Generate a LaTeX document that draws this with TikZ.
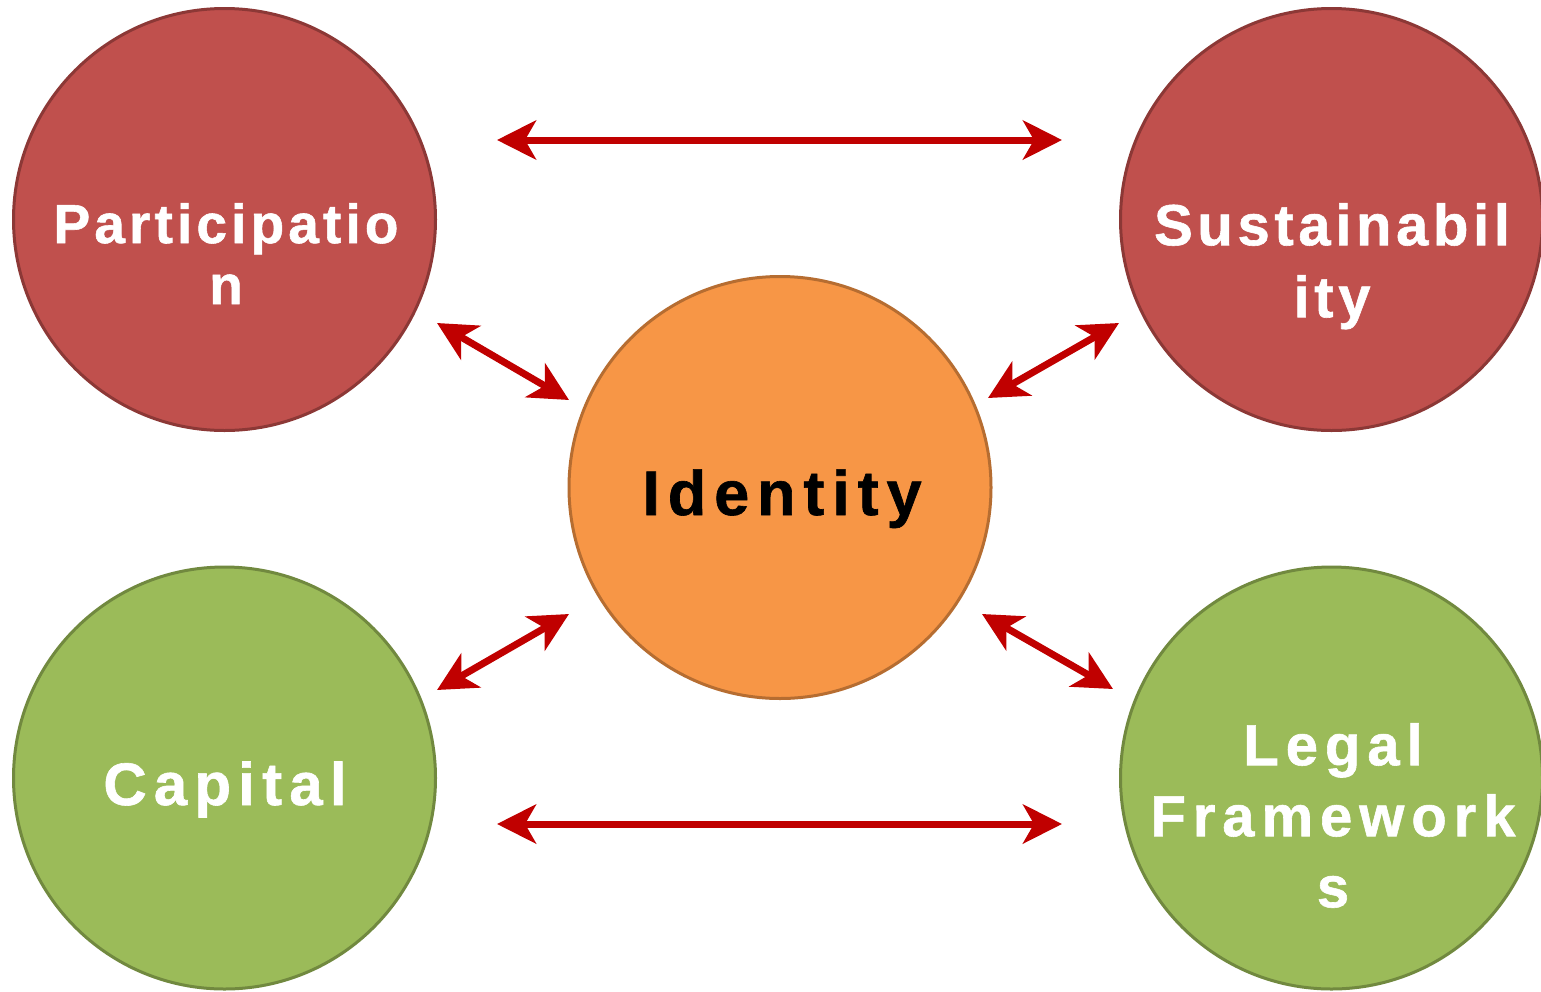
\documentclass[tikz,border=0pt]{standalone}
\usepackage{fontspec}
\setmainfont{Liberation Sans}
\usetikzlibrary{arrows.meta}
\definecolor{redfill}{HTML}{C0504D}
\definecolor{redline}{HTML}{8C3836}
\definecolor{greenfill}{HTML}{9BBB59}
\definecolor{greenline}{HTML}{71893F}
\definecolor{orangefill}{HTML}{F79646}
\definecolor{orangeline}{HTML}{B66D31}
\definecolor{arrowred}{HTML}{C00000}
\begin{document}
\begin{tikzpicture}[x=1pt,y=-1pt,
  bubble/.style={circle, minimum size=422pt, inner sep=0pt, line width=3pt},
  redb/.style={bubble, fill=redfill, draw=redline},
  greenb/.style={bubble, fill=greenfill, draw=greenline},
  orangeb/.style={bubble, fill=orangefill, draw=orangeline},
  lab/.style={inner sep=0pt, align=center, text=white},
  link/.style={draw=arrowred, line width=7pt, {Stealth[length=39pt, width=39pt, inset=11pt]}-{Stealth[length=39pt, width=39pt, inset=11pt]}}
]
\useasboundingbox (0,0) rectangle (1541,991);
\fill[white] (0,0) rectangle (1541,991);

% circles
\node[redb] (p) at (224.5,219.5) {};
\node[redb] (s) at (1331.5,219.5) {};
\node[orangeb] (i) at (780,487.5) {};
\node[greenb] (c) at (224.5,778) {};
\node[greenb] (l) at (1331.5,778) {};

% labels
\node[lab, anchor=north, font=\bfseries\fontsize{55}{61}\selectfont\addfontfeatures{LetterSpace=7.5,FakeBold=1}] (pt) at (226,203) {Participatio\\n};
\node[lab, anchor=north, font=\bfseries\fontsize{58}{72}\selectfont\addfontfeatures{LetterSpace=8,FakeBold=1}] (st) at (1332,203) {Sustainabil\\ity};
\node[lab, anchor=base, text=black, font=\bfseries\fontsize{63}{70}\selectfont\addfontfeatures{LetterSpace=12.5,FakeBold=1}] (it) at (782,515) {Identity};
\node[lab, anchor=base, font=\bfseries\fontsize{60}{70}\selectfont\addfontfeatures{LetterSpace=12,FakeBold=1}] (ct) at (225,805) {Capital};
\node[lab, anchor=north, font=\bfseries\fontsize{58}{71}\selectfont\addfontfeatures{LetterSpace=12,FakeBold=1}] (lt) at (1333,723) {Legal\\Framework\\s};

% arrow end points
\coordinate (a1) at (497,140);  \coordinate (b1) at (1062,140);
\coordinate (a2) at (497,824);  \coordinate (b2) at (1062,824);
\coordinate (a3) at (437,323);  \coordinate (b3) at (569,400);
\coordinate (a4) at (1119,323); \coordinate (b4) at (988,398);
\coordinate (a5) at (437,690);  \coordinate (b5) at (569,614);
\coordinate (a6) at (982,614);  \coordinate (b6) at (1113,689);

\draw[link] (a1) -- (b1);
\draw[link] (a2) -- (b2);
\draw[link] (a3) -- (b3);
\draw[link] (a4) -- (b4);
\draw[link] (a5) -- (b5);
\draw[link] (a6) -- (b6);
\end{tikzpicture}
\end{document}
